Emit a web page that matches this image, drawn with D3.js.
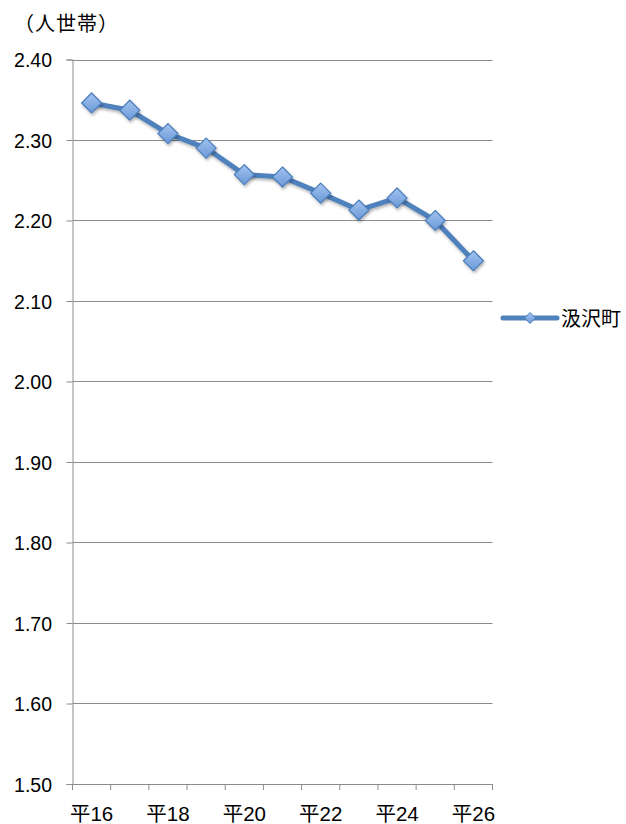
<!DOCTYPE html>
<html><head><meta charset="utf-8">
<script src="https://cdn.jsdelivr.net/npm/d3@7"></script>
<style>body{margin:0;background:#fff;} svg{display:block;}</style>
</head><body>
<script>
const categories = ["平16","平17","平18","平19","平20","平21","平22","平23","平24","平25","平26"];
const seriesName = "汲沢町";
const values = [2.346,2.337,2.308,2.290,2.257,2.254,2.234,2.213,2.228,2.200,2.150];
const yTicks = [1.50,1.60,1.70,1.80,1.90,2.00,2.10,2.20,2.30,2.40];
const xLabels = ["平16","平18","平20","平22","平24","平26"];
const unitLabel = "（人世帯）";

const W=626,H=824;
const svg=d3.select("body").append("svg").attr("width",W).attr("height",H);
const defs=svg.append("defs");
const grad=defs.append("linearGradient").attr("id","mg").attr("x1",0).attr("y1",0).attr("x2",0).attr("y2",1);
grad.append("stop").attr("offset","0%").attr("stop-color","#a3c4f0");
grad.append("stop").attr("offset","100%").attr("stop-color","#6a98d6");
const f=defs.append("filter").attr("id","sh").attr("x","-50%").attr("y","-50%").attr("width","200%").attr("height","200%");
f.append("feDropShadow").attr("dx",1).attr("dy",2).attr("stdDeviation",1.5).attr("flood-color","#000").attr("flood-opacity",0.3);

const x0=72.5,x1=492.5,yTop=59.5,yBot=784;
const x=d3.scaleBand().domain(categories).range([x0,x1]);
const y=d3.scaleLinear().domain([1.5,2.4]).range([yBot,yTop]);
const numFont="'Liberation Sans', Arial, sans-serif";
const mixFont="'Liberation Sans', 'Noto Sans CJK JP', sans-serif";
const jpFont="'Noto Sans CJK JP', sans-serif";

// gridlines
svg.append("g").selectAll("line").data(yTicks.slice(1)).join("line")
 .attr("x1",x0).attr("x2",x1).attr("y1",d=>Math.round(y(d))+0.5).attr("y2",d=>Math.round(y(d))+0.5)
 .attr("stroke","#8c8c8c").attr("stroke-width",1);

// y axis
const ya=svg.append("g").attr("transform",`translate(${x0},0)`)
 .call(d3.axisLeft(y).tickValues(yTicks).tickFormat(d3.format(".2f")).tickSize(6).tickPadding(14.5));
ya.select(".domain").attr("stroke","#8c8c8c");
ya.selectAll(".tick line").attr("stroke","#8c8c8c");
ya.selectAll("text").attr("font-family",numFont).attr("font-size",19.5).attr("fill","#000").attr("dy","0.36em");

// x axis
const xa=svg.append("g").attr("transform",`translate(0,${yBot})`)
 .call(d3.axisBottom(x).tickSize(0).tickFormat(d=>xLabels.includes(d)?d:""));
xa.select(".domain").attr("stroke","#8c8c8c");
xa.selectAll("text").attr("font-family",mixFont).attr("font-size",20.5).attr("fill","#000").attr("y",36.5).attr("dy",0);
// category boundary ticks
const bounds=categories.map(c=>x(c)).concat([x1]);
svg.append("g").selectAll("line").data(bounds).join("line")
 .attr("x1",d=>d).attr("x2",d=>d).attr("y1",yBot).attr("y2",yBot+6).attr("stroke","#8c8c8c");

// unit label
svg.append("text").attr("x",14).attr("y",31).text(unitLabel)
 .attr("font-family",jpFont).attr("font-size",20).attr("letter-spacing",1).attr("fill","#000");

// line
const cx=d=>x(d)+x.bandwidth()/2;
const line=d3.line().x((d,i)=>cx(categories[i])).y(d=>y(d));
svg.append("path").datum(values).attr("d",line).attr("fill","none")
 .attr("stroke","#4f81bd").attr("stroke-width",5).attr("stroke-linejoin","round").attr("filter","url(#sh)");

const diamond=(s)=>`M0,${-s}L${s},0L0,${s}L${-s},0Z`;
svg.append("g").selectAll("path").data(values).join("path")
 .attr("transform",(d,i)=>`translate(${cx(categories[i])},${y(d)})`)
 .attr("d",diamond(10)).attr("fill","url(#mg)").attr("stroke","#4a7ebb").attr("stroke-width",1.2)
 .attr("filter","url(#sh)");

// legend
const ly=318;
svg.append("line").attr("x1",503).attr("x2",557).attr("y1",ly).attr("y2",ly)
 .attr("stroke","#4f81bd").attr("stroke-width",5).attr("stroke-linecap","round");
svg.append("path").attr("transform",`translate(530,${ly})`).attr("d",diamond(5.5))
 .attr("fill","url(#mg)").attr("stroke","#4a7ebb").attr("stroke-width",1);
svg.append("text").attr("x",561).attr("y",ly+8).text(seriesName)
 .attr("font-family",jpFont).attr("font-size",20).attr("fill","#000");
</script>
</body></html>
